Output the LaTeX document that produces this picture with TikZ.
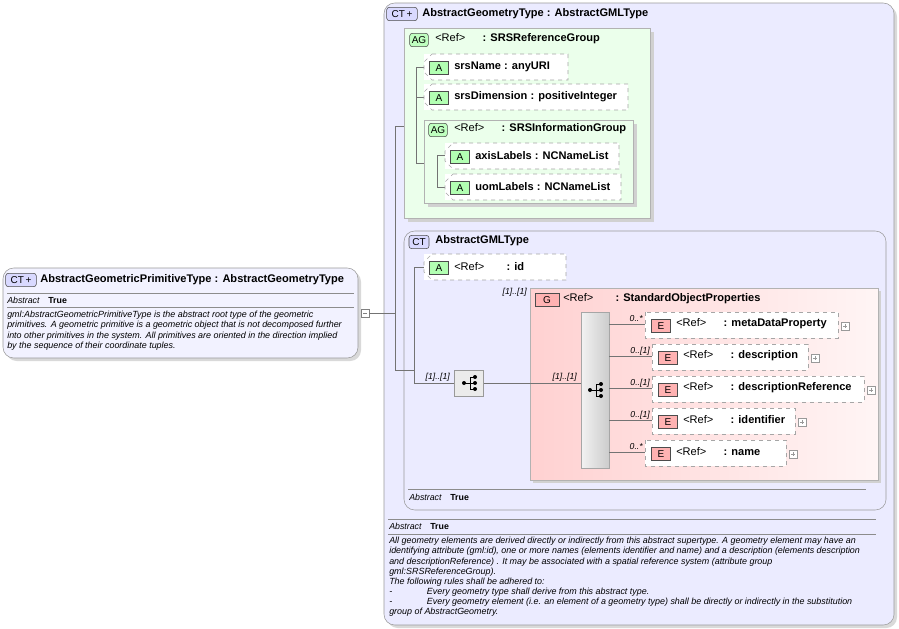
\documentclass[tikz,border=0pt]{standalone}
\usepackage{fontspec}
\setmainfont{Liberation Sans}
\usetikzlibrary{shapes.misc}
\begin{document}
\begin{tikzpicture}[x=0.75pt,y=-0.75pt,
  ln/.style={draw=black!55,line width=0.5pt},
  ti/.style={anchor=west,inner sep=0,font=\fontsize{8.3}{9}\selectfont\bfseries},
  it/.style={anchor=west,inner sep=0,font=\fontsize{6.6}{7}\selectfont\itshape},
  ds/.style={anchor=north west,inner sep=0,align=left,font=\fontsize{6.7}{7.6}\selectfont\itshape},
  mult/.style={anchor=east,inner sep=0,font=\fontsize{6.5}{7}\selectfont\itshape},
  elem/.style={draw=black!35,dashed,line width=0.5pt},
  icon/.style={draw=black!70,rounded corners=2pt,inner sep=0,minimum height=10pt,font=\fontsize{7.5}{8}\selectfont},
  ctic/.style={icon,fill=blue!15,minimum width=15pt},
  agic/.style={icon,fill=green!25,minimum width=14pt},
  aic/.style={icon,fill=green!30,minimum width=14pt,rounded corners=0pt},
  eic/.style={icon,fill=red!30,minimum width=14pt,rounded corners=0pt},
  sh/.style={fill=black!18}]
\useasboundingbox (0,0) rectangle (899,628);
% left box
\fill[black!15,rounded corners=8pt] (6,271) rectangle (361,361);
\draw[draw=black!40,fill=blue!5,rounded corners=8pt] (3,268) rectangle (358,358);
\node[ctic,minimum width=23pt] (i0) at (21,280) {CT\,+};
\node[ti] (t0) at (40,280) {AbstractGeometricPrimitiveType : AbstractGeometryType};
\draw[black!45] (7,293) -- (354,293) (7,307) -- (354,307);
\node[it] (a0) at (7,300) {Abstract\quad\upshape\bfseries True};
\node[ds] (d0) at (7,311) {gml:AbstractGeometricPrimitiveType is the abstract root type of the geometric\\primitives. A geometric primitive is a geometric object that is not decomposed further\\into other primitives in the system. All primitives are oriented in the direction implied\\by the sequence of their coordinate tuples.};
\node[draw=black!50,fill=white,minimum size=6pt,inner sep=0] (m0) at (365,313) {};
\draw[black!50] (363,313)--(367,313);
% outer
\fill[black!15,rounded corners=8pt] (387,6) rectangle (897,628);
\draw[draw=black!40,fill=blue!8,rounded corners=8pt] (384,3) rectangle (894,625);
\node[ctic,minimum width=23pt] (i1) at (402,14) {CT\,+};
\node[ti] at (422,14) {AbstractGeometryType : AbstractGMLType};
\coordinate (v1) at (395,126);
\coordinate (v2) at (395,370);
\draw[ln] (m0.east) -- (395,313);
\draw[ln] (v1) -- (v2);
% AG group
\fill[sh] (408,32) rectangle (654,222);
\draw[draw=black!30,fill=green!8] (404,28) rectangle (650,218);
\node[agic] (ag1) at (419,40) {AG};
\node[ti] at (435,39) {\mdseries<Ref>\quad\ \ \bfseries: SRSReferenceGroup};
\draw[ln] (v1) -- (404,126);
\draw[ln] (416,67) -- (416,163);
\newcommand\attr[4]{% x1,y1,x2,text
  \fill[white] (#1,#2) rectangle (#3,#2+26);
  \draw[elem] (#1+8,#2) -- (#3,#2) -- (#3,#2+26) -- (#1+8,#2+26) -- (#1,#2+18) -- (#1,#2+8) -- cycle;
  \node[aic] at (#1+15,#2+14) {A};
  \node[ti] at (#1+30,#2+13) {#4};}
\draw[ln] (416,67)--(424,67) (416,97)--(424,97) (416,163)--(424,163);
\attr{424}{54}{568}{srsName : anyURI}
\attr{424}{84}{628}{srsDimension : positiveInteger}
\fill[sh] (428,124) rectangle (637,207);
\draw[draw=black!30,fill=green!8] (424,120) rectangle (633,203);
\node[agic] at (438,130) {AG};
\node[ti] at (454,129) {\mdseries<Ref>\quad\ \ \bfseries: SRSInformationGroup};
\draw[ln] (437,155)--(437,187) (437,155)--(445,155) (437,187)--(445,187);
\attr{445}{143}{619}{axisLabels : NCNameList}
\attr{445}{174}{621}{uomLabels : NCNameList}
% AbstractGMLType
\draw[draw=black!40,fill=blue!8,rounded corners=8pt] (404,231) rectangle (886,510);
\node[ctic] at (419,242) {CT};
\node[ti] at (435,241) {AbstractGMLType};
\draw[ln] (v2) -- (414,370);
\draw[ln] (414,267) -- (414,383) (414,267)--(424,267);
\attr{424}{254}{566}{\mdseries<Ref>\qquad\bfseries: id}
\draw[black!45] (408,489) -- (866,489);
\node[it] at (409,497) {Abstract\quad\upshape\bfseries True};
% sequence
\node[draw=black!40,fill=black!8,minimum width=29pt*0.75,minimum height=26pt*0.75,inner sep=0] (seq) at (469,383) {};
\node[mult] at (450,377) {[1]..[1]};
\draw[ln] (414,383) -- (seq.west);
\newcommand\seqic[2]{\fill (#1-6,#2) circle (1.5pt);\draw[line width=0.6pt] (#1-6,#2)--(#1,#2) (#1,#2-6)--(#1,#2+6) (#1,#2-6)--(#1+5,#2-6) (#1,#2)--(#1+5,#2) (#1,#2+6)--(#1+5,#2+6);\fill (#1+5,#2-6) circle (1.5pt) (#1+5,#2) circle (1.5pt) (#1+5,#2+6) circle (1.5pt);}
\seqic{470}{383}
% G group
\fill[sh] (533,291) rectangle (881,483);
\shade[left color=red!18,right color=red!4] (530,288) rectangle (878,480);
\draw[black!30] (530,288) rectangle (878,480);
\node[mult] at (527,292) {[1]..[1]};
\node[eic,minimum width=18pt] at (547,300) {G};
\node[ti] at (563,299) {\mdseries<Ref>\qquad\bfseries: StandardObjectProperties};
\shade[left color=black!5,right color=black!20] (581,312) rectangle (609,468);
\draw[black!35] (581,312) rectangle (609,468);
\coordinate (seq2) at (581,383);
\draw[ln] (seq.east) -- (seq2);
\node[mult] at (577,377) {[1]..[1]};
\seqic{596}{390}
\newcommand\el[6]{% x1,y,x2,text,mult,branch y
  \draw[ln] (609,#6) -- (#1,#6);
  \node[mult] at (#1-2,#6-5) {#5};
  \fill[white] (#1,#2) rectangle (#3,#2+26);
  \draw[elem] (#1,#2) rectangle (#3,#2+26);
  \node[eic] at (#1+16,#2+14) {E};
  \node[ti] at (#1+31,#2+12) {#4};
  \node[draw=black!40,fill=white,minimum size=6pt,inner sep=0] at (#3+7,#2+14) {};
  \draw[black!40] (#3+5,#2+14)--(#3+9,#2+14) (#3+7,#2+12)--(#3+7,#2+16);}
\el{645}{312}{838}{\mdseries<Ref>\quad\ \ \bfseries: metaDataProperty}{0..*}{324}
\el{652}{344}{808}{\mdseries<Ref>\quad\ \ \bfseries: description}{0..[1]}{356}
\el{652}{376}{864}{\mdseries<Ref>\quad\ \ \bfseries: descriptionReference}{0..[1]}{388}
\el{652}{408}{795}{\mdseries<Ref>\quad\ \ \bfseries: identifier}{0..[1]}{420}
\el{645}{440}{786}{\mdseries<Ref>\quad\ \ \bfseries: name}{0..*}{452}
% bottom annotation
\draw[black!45] (388,519) -- (876,519) (388,534) -- (876,534);
\node[it] at (389,526) {Abstract\quad\upshape\bfseries True};
\node[ds] at (389,537) {All geometry elements are derived directly or indirectly from this abstract supertype. A geometry element may have an\\identifying attribute (gml:id), one or more names (elements identifier and name) and a description (elements description\\and descriptionReference) . It may be associated with a spatial reference system (attribute group\\gml:SRSReferenceGroup).\\The following rules shall be adhered to:\\-\hspace{26pt}Every geometry type shall derive from this abstract type.\\-\hspace{26pt}Every geometry element (i.e. an element of a geometry type) shall be directly or indirectly in the substitution\\group of AbstractGeometry.};
\end{tikzpicture}
\end{document}
